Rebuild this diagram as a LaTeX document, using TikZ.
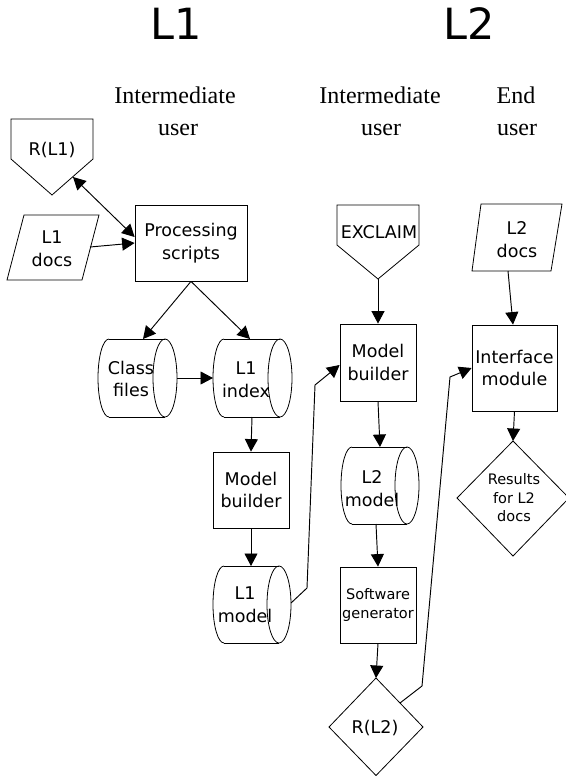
\documentclass[tikz,border=0pt]{standalone}
\usepackage{fontspec}
\setmainfont{Liberation Serif}
\setsansfont{DejaVu Sans}
\usetikzlibrary{arrows.meta,calc}
\tikzset{
  shp/.style={draw=black, line width=0.8pt},
  lbl/.style={font=\sffamily\fontsize{17.5}{22.5}\selectfont, align=center, inner sep=0pt},
  sml/.style={font=\sffamily\fontsize{14.5}{18.5}\selectfont, align=center, inner sep=0pt},
  boxnode/.style={shp, rectangle, inner sep=0pt, lbl},
  conn/.style={line width=0.95pt, -{Triangle[length=12.5pt,width=13pt]}},
  dconn/.style={line width=0.95pt, {Triangle[length=12.5pt,width=13pt]}-{Triangle[length=12.5pt,width=13pt]}},
  headtxt/.style={font=\sffamily\fontsize{43}{50}\selectfont, inner sep=0pt, anchor=base},
  roletxt/.style={font=\rmfamily\fontsize{24}{30}\selectfont, inner sep=0pt, anchor=base},
}
\begin{document}
\begin{tikzpicture}[x=1pt,y=-1pt]
\useasboundingbox (0,0) rectangle (565,776);

% headings
\node[headtxt] (hL1) at (176,40) {L1};
\node[headtxt] (hL2) at (469,40) {L2};
\node[roletxt] (r1a) at (175,103) {Intermediate};
\node[roletxt] (r1b) at (178,135) {user};
\node[roletxt] (r2a) at (380,103) {Intermediate};
\node[roletxt] (r2b) at (381,135) {user};
\node[roletxt] (r3a) at (516,103) {End};
\node[roletxt] (r3b) at (517,135) {user};

% rectangles
\node[boxnode, minimum width=112pt, minimum height=76pt] (ps) at (191,243) {Processing\\scripts};
\node[boxnode, minimum width=76pt, minimum height=76pt] (mb1) at (251,490) {Model\\builder};
\node[boxnode, minimum width=76pt, minimum height=77pt] (mb2) at (378,362.5) {Model\\builder};
\node[boxnode, sml, minimum width=76pt, minimum height=76pt] (sg) at (378,605) {Software\\generator};
\node[boxnode, minimum width=85pt, minimum height=86pt] (im) at (514.5,368) {Interface\\module};

% pentagons
\draw[shp] (11,119) -- (93,119) -- (93,159) -- (52,195) -- (11,159) -- cycle;
\node[lbl, anchor=base] (rl1) at (52,155) {R(L1)};
\draw[shp] (337,205) -- (419,205) -- (419,245) -- (378,279) -- (337,245) -- cycle;
\node[lbl, anchor=base] (exc) at (379,238) {EXCLAIM};

% parallelograms
\draw[shp] (24,215) -- (99,215) -- (82,280) -- (7,280) -- cycle;
\node[lbl] (l1d) at (52,248.5) {L1\\docs};
\draw[shp] (481,204) -- (562,204) -- (551,271) -- (472,271) -- cycle;
\node[lbl] (l2d) at (517,239.5) {L2\\docs};

% cylinders
\draw[shp] (109,339) -- (165,339) (109,417) -- (165,417);
\draw[shp] (109,339) arc[start angle=270, end angle=90, x radius=11, y radius=39];
\draw[shp] (165,378) ellipse[x radius=12, y radius=39];
\node[lbl] (cf) at (131,379) {Class\\files};

\draw[shp] (224,339) -- (280,339) (224,417) -- (280,417);
\draw[shp] (224,339) arc[start angle=270, end angle=90, x radius=11, y radius=39];
\draw[shp] (280,378) ellipse[x radius=12, y radius=39];
\node[lbl] (l1i) at (246,379.5) {L1\\index};

\draw[shp] (224,566) -- (279,566) (224,643) -- (279,643);
\draw[shp] (224,566) arc[start angle=270, end angle=90, x radius=11, y radius=38.5];
\draw[shp] (279,604.5) ellipse[x radius=12, y radius=38.5];
\node[lbl] (l1m) at (245,604.5) {L1\\model};

\draw[shp] (352,447) -- (407,447) (352,524) -- (407,524);
\draw[shp] (352,447) arc[start angle=270, end angle=90, x radius=11, y radius=38.5];
\draw[shp] (407,485.5) ellipse[x radius=12, y radius=38.5];
\node[lbl] (l2m) at (372,488.5) {L2\\model};

% diamonds
\draw[shp] (376,678) -- (423,727) -- (376,775.5) -- (329,727) -- cycle;
\node[lbl, anchor=base] (rl2) at (375,733) {R(L2)};
\draw[shp] (513,441) -- (569,498) -- (513,556) -- (457,498) -- cycle;
\node[sml] (res) at (514,498) {Results\\for L2\\docs};

% connector end points
\coordinate (rl1e) at (73,177);
\coordinate (l1de) at (90,247);
\coordinate (cft) at (143,339);
\coordinate (l1it) at (250,339);
\coordinate (cfr) at (177,378);
\coordinate (l1il) at (213,378);
\coordinate (l1ib) at (252,417);
\coordinate (l1mt) at (251,566);
\coordinate (l1mr) at (291,603);
\coordinate (excb) at (378,279);
\coordinate (l2mt) at (380,447);
\coordinate (l2mb) at (376,524);
\coordinate (rl2t) at (376,678);
\coordinate (rl2r) at (400,703);
\coordinate (l2db) at (508,271);
\coordinate (rest) at (513,441);

% connectors
\draw[dconn] (rl1e) -- ($(ps.west)+(0,-6)$);
\draw[conn] (l1de) -- (ps.west);
\draw[conn] (ps.south) -- (cft);
\draw[conn] (ps.south) -- (l1it);
\draw[conn] (cfr) -- (l1il);
\draw[conn] (l1ib) -- (mb1.north);
\draw[conn] (mb1.south) -- (l1mt);
\draw[conn] (l1mr) -- (307,588) -- (315,385) -- ($(mb2.west)+(0,2.5)$);
\draw[conn] (excb) -- (mb2.north);
\draw[conn] (mb2.south) -- (l2mt);
\draw[conn] (l2mb) -- (sg.north);
\draw[conn] (sg.south) -- (rl2t);
\draw[conn] (rl2r) -- (422,686) -- (450,377) -- (im.west);
\draw[conn] (l2db) -- ($(im.north)+(-1.5,0)$);
\draw[conn] (im.south) -- (rest);
\end{tikzpicture}
\end{document}
